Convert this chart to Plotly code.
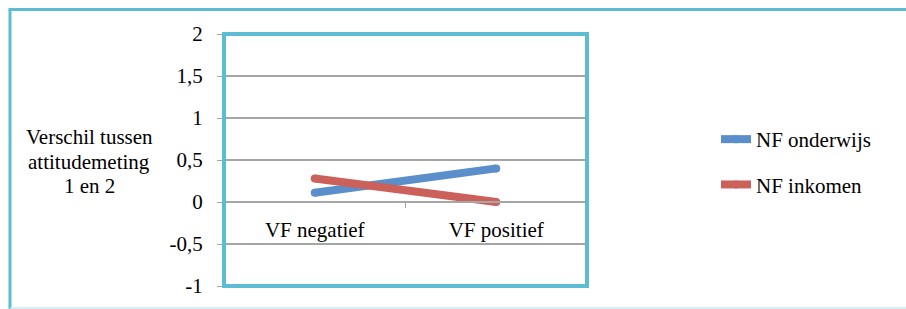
import plotly.graph_objects as go

categories = ["VF negatief", "VF positief"]
nf_onderwijs = [0.11, 0.40]
nf_inkomen = [0.28, 0.00]
series_names = ["NF onderwijs", "NF inkomen"]
y_tickvals = [2, 1.5, 1, 0.5, 0, -0.5, -1]
y_ticktext = ["2", "1,5", "1", "0,5", "0", "-0,5", "-1"]
y_title_lines = ["Verschil tussen", "attitudemeting", "1 en 2"]

FONT = "'Liberation Serif', 'DejaVu Serif', serif"
BLUE = "#5A8FCB"
RED = "#CC605A"
CYAN = "#5BBCD2"
GRID = "#A6A6A6"

W, H = 906, 309
L, R, T, B = 224, 319, 34, 23
pw, ph = W - L - R, H - T - B

def px_x(x):
    return (x - L) / pw

def px_y(y):
    return (H - B - y) / ph

fig = go.Figure()
fig.add_trace(go.Scatter(x=categories, y=nf_onderwijs, mode="lines+markers", name=series_names[0],
                         line=dict(color=BLUE, width=8), marker=dict(color=BLUE, size=8),
                         legendgroup="a"))
fig.add_trace(go.Scatter(x=categories, y=nf_inkomen, mode="lines+markers", name=series_names[1],
                         line=dict(color=RED, width=8), marker=dict(color=RED, size=8),
                         legendgroup="b"))

title_annots = [
    dict(text=t, xref="paper", yref="paper", x=px_x(89), y=px_y(137 + 24.5 * i),
         showarrow=False, xanchor="center", yanchor="middle",
         font=dict(family=FONT, size=21))
    for i, t in enumerate(y_title_lines)
]

ymin, ymax = -1, 2
fig.update_layout(
    width=W, height=H,
    margin=dict(l=L, r=R, t=T, b=B, autoexpand=False),
    paper_bgcolor="white", plot_bgcolor="white",
    font=dict(family=FONT, size=21, color="#000000"),
    xaxis=dict(type="category", range=[-0.5, 1.5], anchor="free",
               position=(0 - ymin) / (ymax - ymin),
               showgrid=False, showline=True, linecolor=GRID, linewidth=2,
               ticks="outside", tickson="boundaries", ticklen=5, tickcolor=GRID,
               tickfont=dict(family=FONT, size=21), ticklabelstandoff=9),
    yaxis=dict(range=[ymin, ymax], tickvals=y_tickvals, ticktext=y_ticktext,
               showgrid=True, gridcolor=GRID, gridwidth=2,
               zeroline=False, showline=True, linecolor=GRID, linewidth=2,
               ticks="outside", ticklen=5, tickcolor=GRID,
               tickfont=dict(family=FONT, size=21), ticklabelstandoff=10),
    legend=dict(xref="container", yref="container", x=716 / W, y=1 - 119 / H,
                xanchor="left", yanchor="top", tracegroupgap=15,
                font=dict(family=FONT, size=21), bgcolor="rgba(0,0,0,0)"),
    showlegend=True,
    annotations=title_annots,
    shapes=[
        dict(type="rect", xref="paper", yref="paper", x0=0, x1=1, y0=0, y1=1,
             line=dict(color=CYAN, width=4), layer="above"),
        dict(type="line", xref="paper", yref="paper", x0=px_x(10), x1=px_x(10),
             y0=px_y(9.5), y1=px_y(312), line=dict(color=CYAN, width=3)),
        dict(type="line", xref="paper", yref="paper", x0=px_x(8.5), x1=px_x(910),
             y0=px_y(9.5), y1=px_y(9.5), line=dict(color=CYAN, width=3)),
        dict(type="line", xref="paper", yref="paper", x0=px_x(10), x1=px_x(910),
             y0=px_y(308), y1=px_y(308), line=dict(color="#C8EAF1", width=1.5)),
    ],
)

fig.write_html("out.html", config={"displayModeBar": False},
               post_script="document.body.style.margin='0';")
